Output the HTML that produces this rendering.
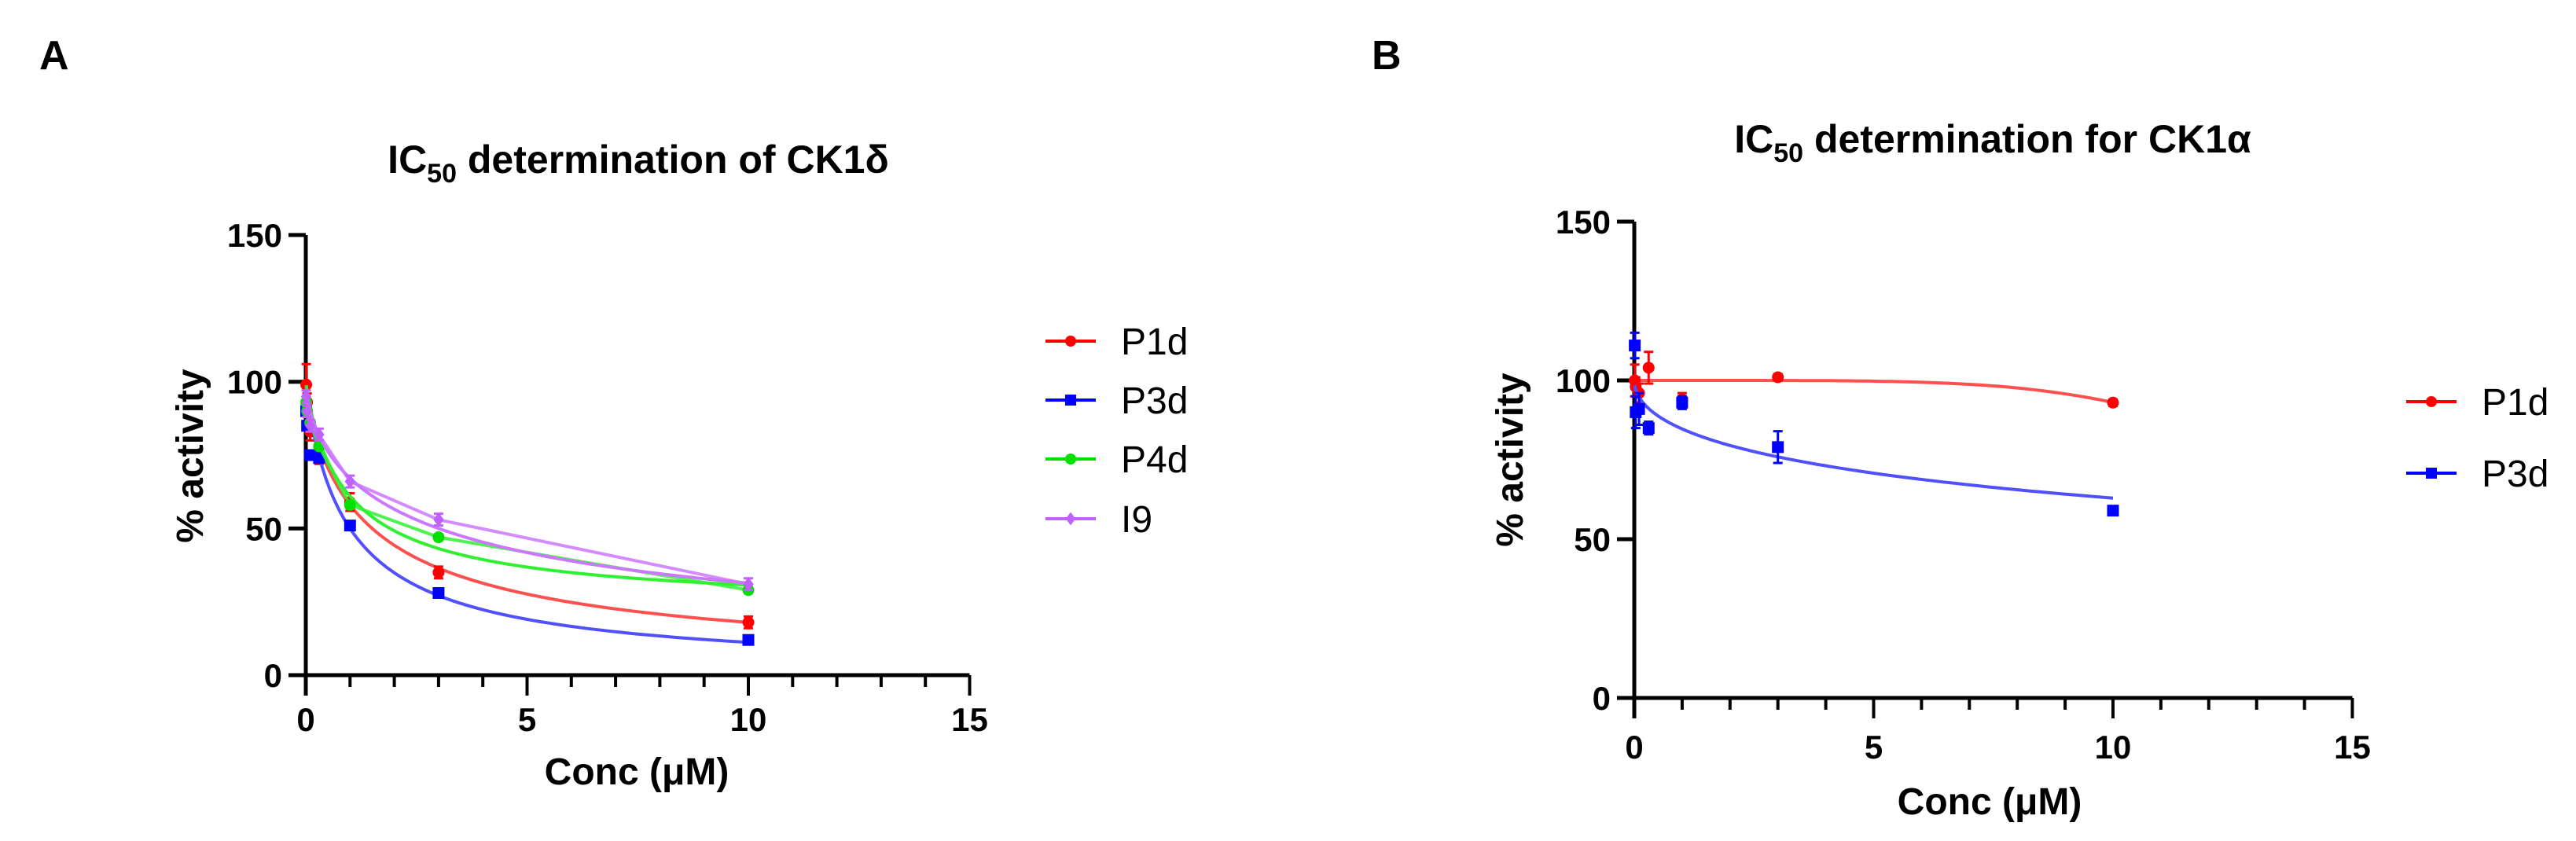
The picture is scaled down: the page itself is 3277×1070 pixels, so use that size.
<!DOCTYPE html>
<html><head><meta charset="utf-8"><style>
html,body{margin:0;padding:0;background:#fff;}
svg{display:block;font-family:"Liberation Sans",sans-serif;}
</style></head><body>
<svg id="fig" width="3277" height="1070" viewBox="0 0 3277 1070">
<text x="50" y="88" font-size="52" font-weight="bold">A</text>
<text x="1745" y="88" font-size="52" font-weight="bold">B</text>
<text x="812" y="220" font-size="50" font-weight="bold" text-anchor="middle">IC<tspan font-size="34" dy="12">50</tspan><tspan dy="-12"> determination of CK1δ</tspan></text>
<text x="2535" y="194" font-size="50" font-weight="bold" text-anchor="middle">IC<tspan font-size="34" dy="12">50</tspan><tspan dy="-12"> determination for CK1α</tspan></text>
<g id="pa"></g>
<g id="pb"></g>
</svg>
<script>
// ---- shared data ----
const concs = [0.01, 0.03, 0.1, 0.3, 1, 3, 10];
const xTicksMajor = [0, 5, 10, 15];
const yTicks = [0, 50, 100, 150];

// Panel A (CK1δ)
const aNames = ["P1d", "P3d", "P4d", "I9"];
const aP1d = [99, 93, 83, 75, 59, 35, 18];
const aP3d = [90, 85, 75, 74, 51, 28, 12];
const aP4d = [93, 90, 86, 78, 58, 47, 29];
const aI9  = [95, 90, 85, 82, 66, 53, 31];
const aErr = [7, 3, 3, 3, 3, 2, 2];
// fitted curve params: top, bottom, ic50, hill
const aTop = [100, 100, 100, 100];
const aBottom = [0, 0, 22, 0];
const aIC50 = [1.5, 1.0, 1.0, 3.0];
const aHill = [0.8, 0.9, 0.9, 0.65];
const aConnect = [false, false, true, true];

// Panel B (CK1α)
const bNames = ["P1d", "P3d"];
const bP1d = [100, 98, 96, 104, 94, 101, 93];
const bP3d = [111, 90, 91, 85, 93, 79, 59];
const bErrP1d = [5, 3, 3, 5, 2, 1, 1];
const bErrP3d = [4, 5, 5, 2, 2, 5, 1];
const bTop = [100, 100];
const bBottom = [0, 0];
const bIC50 = [16.8, 28];
const bHill = [5, 0.514];

const NS = "http://www.w3.org/2000/svg";
function mk(parent, tag, attrs){
  const e = document.createElementNS(NS, tag);
  for (const k in attrs) e.setAttribute(k, attrs[k]);
  parent.appendChild(e); return e;
}
const colors = ["#ff0000", "#0000ff", "#00e000", "#c060ff"];
const curveCols = ["#ff5050", "#5050ff", "#30f030", "#cc77ff"];
const shapes = ["circle", "square", "circle", "diamond"];

function marker(g, shape, x, y, col, s){
  let m;
  if (shape === "square") m = mk(g, "rect", {x:x-s/2, y:y-s/2, width:s, height:s, fill:col});
  else if (shape === "diamond") m = mk(g, "polygon", {points:`${x},${y-s*0.6} ${x+s*0.45},${y} ${x},${y+s*0.6} ${x-s*0.45},${y}`, fill:col});
  else m = mk(g, "circle", {cx:x, cy:y, r:s/2, fill:col});
  return m;
}

function drawPanel(cfg){
  const g = document.getElementById(cfg.id);
  const X = v => cfg.x0 + v * cfg.xs;
  const Y = v => cfg.y0 - v * cfg.ys;
  const ax = mk(g, "path", {d:`M${X(0)-22},${Y(0)} H${X(15)} M${X(0)},${Y(150)} V${Y(0)+26}`, stroke:"#000", "stroke-width":5, fill:"none"});
  
  
  for (let i = 0; i <= 15; i++){
    const major = i % 5 === 0;
    const t = mk(g, "line", {x1:X(i), x2:X(i), y1:Y(0), y2:Y(0)+(major?26:15), stroke:"#000", "stroke-width":4});
    
    
  }
  xTicksMajor.forEach(v => {
    const t = mk(g, "text", {x:X(v), y:cfg.xLabY, "font-size":42, "font-weight":"bold", "text-anchor":"middle"});
    t.textContent = v;
    
    
  });
  yTicks.forEach(v => {
    const l = mk(g, "line", {x1:X(0)-22, x2:X(0), y1:Y(v), y2:Y(v), stroke:"#000", "stroke-width":5});
    
    
    const t = mk(g, "text", {x:X(0)-30, y:Y(v)+15, "font-size":42, "font-weight":"bold", "text-anchor":"end"});
    t.textContent = v;
    
    
  });
  const xt = mk(g, "text", {x:cfg.xTitleX, y:cfg.xTitleY, "font-size":48, "font-weight":"bold", "text-anchor":"middle"});
  xt.textContent = "Conc (μM)";
  
  
  const yt = mk(g, "text", {x:0, y:0, "font-size":48, "font-weight":"bold", "text-anchor":"middle", transform:`translate(${cfg.yTitleX},${cfg.yTitleY}) rotate(-90)`});
  yt.textContent = "% activity";
  
  

  cfg.series.forEach((s, si) => {
    const sg = mk(g, "g", {});
    
    
    let d = "";
    for (let k = 0; k <= 300; k++){
      const x = Math.pow(10, -2 + 3 * k / 300);
      const y = s.bottom + (s.top - s.bottom) / (1 + Math.pow(x / s.ic50, s.hill));
      d += (k ? "L" : "M") + X(x).toFixed(1) + "," + Y(y).toFixed(1);
    }
    const c = mk(sg, "path", {d:d, stroke:curveCols[si], "stroke-width":4, fill:"none"});
    
    
    if (s.connect){
      const pd = s.vals.map((v, i) => (i ? "L" : "M") + X(concs[i]).toFixed(1) + "," + Y(v).toFixed(1)).join("");
      const cl = mk(sg, "path", {d:pd, stroke:curveCols[si], "stroke-width":4, fill:"none", opacity:0.85});
      
      
    }
    s.vals.forEach((v, i) => {
      const e = s.err[i];
      const eb = mk(sg, "path", {d:`M${X(concs[i])},${Y(v+e)} V${Y(v-e)} M${X(concs[i])-6},${Y(v+e)} h12 M${X(concs[i])-6},${Y(v-e)} h12`, stroke:colors[si], "stroke-width":3, fill:"none"});
      
      
      const m = marker(sg, shapes[si], X(concs[i]), Y(v), colors[si], 15);
      
      
    });
    const lg = mk(g, "g", {});
    
    
    const ly = cfg.legY[si];
    mk(lg, "line", {x1:cfg.legX, x2:cfg.legX+64, y1:ly, y2:ly, stroke:colors[si], "stroke-width":4});
    marker(lg, shapes[si], cfg.legX+32, ly, colors[si], 14);
    const lt = mk(lg, "text", {x:cfg.legX+96, y:ly+17, "font-size":48});
    lt.textContent = s.name;
  });
}

drawPanel({
  id:"pa", x0:389, xs:56.3, y0:859, ys:3.733, xLabY:930, xTitleX:810, xTitleY:998,
  yTitleX:258, yTitleY:580, legX:1330, legY:[434, 509, 584, 660],
  series:[
    {name:aNames[0], vals:aP1d, err:aErr, top:aTop[0], bottom:aBottom[0], ic50:aIC50[0], hill:aHill[0], connect:aConnect[0]},
    {name:aNames[1], vals:aP3d, err:aErr.map(()=>1), top:aTop[1], bottom:aBottom[1], ic50:aIC50[1], hill:aHill[1], connect:aConnect[1]},
    {name:aNames[2], vals:aP4d, err:aErr.map(()=>1), top:aTop[2], bottom:aBottom[2], ic50:aIC50[2], hill:aHill[2], connect:aConnect[2]},
    {name:aNames[3], vals:aI9, err:aErr.map(()=>2), top:aTop[3], bottom:aBottom[3], ic50:aIC50[3], hill:aHill[3], connect:aConnect[3]}
  ]
});
drawPanel({
  id:"pb", x0:2079, xs:60.9, y0:888, ys:4.04, xLabY:965, xTitleX:2531, xTitleY:1036,
  yTitleX:1937, yTitleY:585, legX:3061, legY:[511, 602],
  series:[
    {name:bNames[0], vals:bP1d, err:bErrP1d, top:bTop[0], bottom:bBottom[0], ic50:bIC50[0], hill:bHill[0], connect:false},
    {name:bNames[1], vals:bP3d, err:bErrP3d, top:bTop[1], bottom:bBottom[1], ic50:bIC50[1], hill:bHill[1], connect:false}
  ]
});
</script>
</body></html>
